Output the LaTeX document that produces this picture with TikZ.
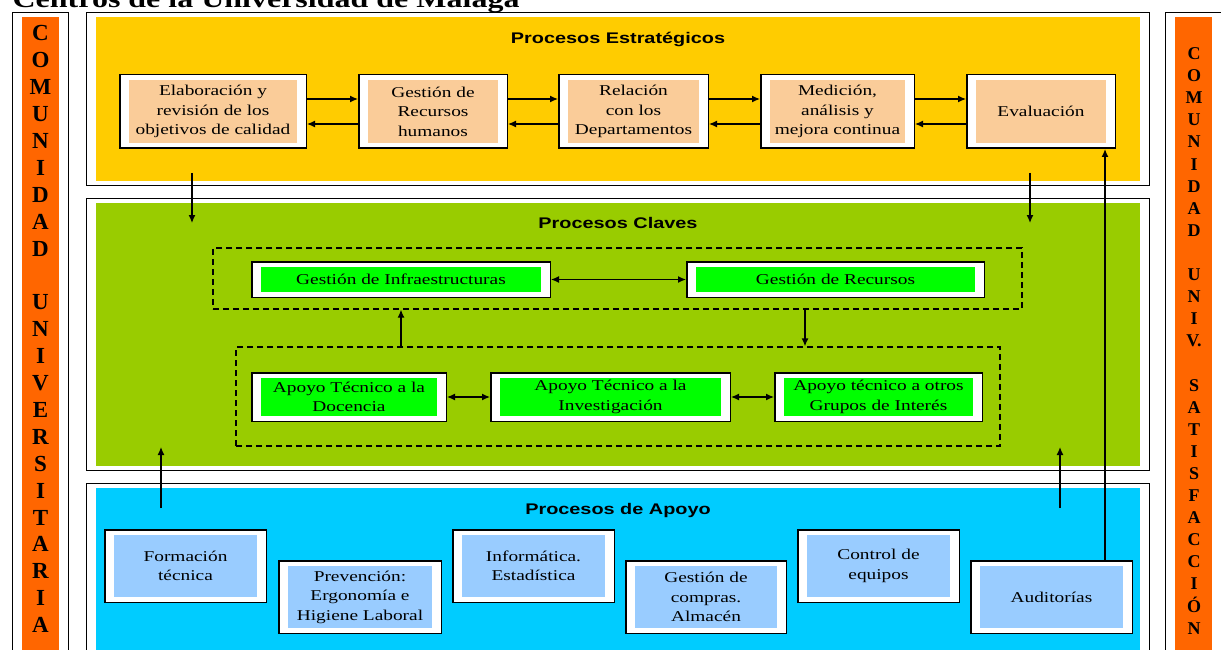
\documentclass[tikz,border=0pt]{standalone}
\usepackage{fontspec}
\setmainfont{Liberation Serif}
\newfontfamily\boxfont[FakeStretch=1.29]{Liberation Serif}
\newfontfamily\headfont[FakeStretch=1.29]{Liberation Sans}
\usetikzlibrary{arrows.meta}
\definecolor{peach}{RGB}{250,204,153}
\definecolor{amber}{RGB}{255,204,0}
\definecolor{keygreen}{RGB}{153,204,0}
\definecolor{boxgreen}{RGB}{0,255,0}
\definecolor{skyfill}{RGB}{0,204,255}
\definecolor{paleblue}{RGB}{153,204,255}
\definecolor{comorange}{RGB}{255,102,0}
\tikzset{
	procbox/.style={draw=black, line width=1.5pt, fill=white, inner sep=0pt, align=center,
		font=\boxfont\fontsize{15}{19.5}\selectfont,
		path picture={\fill[#1] ([xshift=9.3pt,yshift=4.8pt]path picture bounding box.south west) rectangle ([xshift=-9.3pt,yshift=-4.8pt]path picture bounding box.north east);}},
	secframe/.style={procbox=#1, line width=1pt},
	sectitle/.style={inner sep=0pt, anchor=base, font=\headfont\bfseries\fontsize{15.4}{18}\selectfont},
	dashbox/.style={draw=black, line width=1.3pt, dash pattern=on 6pt off 4pt, inner sep=0pt},
	colword/.style={inner sep=0pt, align=center, anchor=north}
}

\begin{document}
\begin{tikzpicture}[x=1pt, y=-1pt, >={Latex[length=8pt,width=7pt]}, line width=1.3pt]
			%%%%% START %%%%%
			\useasboundingbox (0,0) rectangle (1221,650);
			
			\node[anchor=base west, inner sep=0pt, font=\boxfont\bfseries\fontsize{24.8}{28}\selectfont] (title) at (12,7.5) {Centros de la Universidad de Málaga};
			
			% side columns
			\node[secframe=comorange, minimum width=56pt, minimum height=657pt] (colL) at (40.5,341) {};
			\node[colword, font=\bfseries\fontsize{23}{26.9}\selectfont] (wordL) at (40.5,25) {C\\O\\M\\U\\N\\I\\D\\A\\D\\\mbox{}\\U\\N\\I\\V\\E\\R\\S\\I\\T\\A\\R\\I\\A};
			\node[secframe=comorange, minimum width=56pt, minimum height=657pt] (colR) at (1193.5,341) {};
			\node[colword, font=\bfseries\fontsize{18}{22.1}\selectfont] (wordR) at (1194,47) {C\\O\\M\\U\\N\\I\\D\\A\\D\\\mbox{}\\U\\N\\I\\V.\\\mbox{}\\S\\A\\T\\I\\S\\F\\A\\C\\C\\I\\Ó\\N};
			
			% sections
			\node[secframe=amber, minimum width=1063pt, minimum height=173pt] (SE) at (618,99) {};
			\node[secframe=keygreen, minimum width=1063pt, minimum height=272pt] (SC) at (618,334.5) {};
			\node[secframe=skyfill, minimum width=1063pt, minimum height=182pt] (SA) at (618,574) {};
			
			\node[sectitle] (tSE) at (618,43.5) {Procesos Estratégicos};
			\node[sectitle] (tSC) at (618,228.5) {Procesos Claves};
			\node[sectitle] (tSA) at (618,514.5) {Procesos de Apoyo};
			
			% estrategicos
			\node[procbox=peach, minimum width=186.5pt, minimum height=73.5pt] (E1) at (213,111.5) {Elaboración y\\revisión de los\\objetivos de calidad};
			\node[procbox=peach, minimum width=148.5pt, minimum height=73.5pt] (E2) at (433,111.5) {Gestión de\\Recursos\\humanos};
			\node[procbox=peach, minimum width=149.5pt, minimum height=73.5pt] (E3) at (633.5,111.5) {Relación\\con los\\Departamentos};
			\node[procbox=peach, minimum width=153.5pt, minimum height=73.5pt] (E4) at (837.5,111.5) {Medición,\\análisis y\\mejora continua};
			\node[procbox=peach, minimum width=148.5pt, minimum height=73.5pt] (E5) at (1041,111.5) {Evaluación};
			
			\draw[->] ([yshift=12.5pt]E1.east) -- ([yshift=12.5pt]E2.west);
			\draw[->] ([yshift=-12.5pt]E2.west) -- ([yshift=-12.5pt]E1.east);
			\draw[->] ([yshift=12.5pt]E2.east) -- ([yshift=12.5pt]E3.west);
			\draw[->] ([yshift=-12.5pt]E3.west) -- ([yshift=-12.5pt]E2.east);
			\draw[->] ([yshift=12.5pt]E3.east) -- ([yshift=12.5pt]E4.west);
			\draw[->] ([yshift=-12.5pt]E4.west) -- ([yshift=-12.5pt]E3.east);
			\draw[->] ([yshift=12.5pt]E4.east) -- ([yshift=12.5pt]E5.west);
			\draw[->] ([yshift=-12.5pt]E5.west) -- ([yshift=-12.5pt]E4.east);
			
			% claves
			\node[dashbox, minimum width=809pt, minimum height=61pt] (D1) at (617.5,278.5) {};
			\node[dashbox, minimum width=764pt, minimum height=99pt] (D2) at (618,396.5) {};
			
			\node[procbox=boxgreen, minimum width=298.5pt, minimum height=35.5pt] (GI) at (401,279.5) {Gestión de Infraestructuras};
			\node[procbox=boxgreen, minimum width=297.5pt, minimum height=35.5pt] (GR) at (835.5,279.5) {Gestión de Recursos};
			\node[procbox=boxgreen, minimum width=194.5pt, minimum height=48.5pt] (AD) at (349,397) {Apoyo Técnico a la\\Docencia};
			\node[procbox=boxgreen, minimum width=239.5pt, minimum height=48.5pt] (AI) at (610.5,397) {Apoyo Técnico a la\\Investigación};
			\node[procbox=boxgreen, minimum width=207.5pt, minimum height=48.5pt] (AO) at (878.5,397) {Apoyo técnico a otros\\Grupos de Interés};
			
			\draw[<->] (GI) -- (GR);
			\draw[<->] (AD) -- (AI);
			\draw[<->] (AI) -- (AO);
			\coordinate (xdown) at (805,0);
			\draw[->] (D2.north -| GI.center) -- (D1.south -| GI.center);
			\draw[->] (D1.south -| xdown) -- (D2.north -| xdown);
			
			% apoyo
			\node[procbox=paleblue, minimum width=161.5pt, minimum height=72.5pt] (FT) at (185.5,566) {Formación\\técnica};
			\node[procbox=paleblue, minimum width=162.5pt, minimum height=72.5pt] (PE) at (360,597) {Prevención:\\Ergonomía e\\Higiene Laboral};
			\node[procbox=paleblue, minimum width=161.5pt, minimum height=72.5pt] (IE) at (533.5,566) {Informática.\\Estadística};
			\node[procbox=paleblue, minimum width=160.5pt, minimum height=72.5pt] (GC) at (706,597) {Gestión de\\compras.\\Almacén};
			\node[procbox=paleblue, minimum width=161.5pt, minimum height=72.5pt] (CE) at (878.5,566) {Control de\\equipos};
			\node[procbox=paleblue, minimum width=161.5pt, minimum height=72.5pt] (AU) at (1051.5,597) {Auditorías};
			
			% between sections
			\coordinate (sa1) at (192,173);
			\coordinate (sb1) at (192,223);
			\coordinate (sa2) at (1030,173);
			\coordinate (sb2) at (1030,223);
			\coordinate (sc1) at (161,508);
			\coordinate (sd1) at (161,447);
			\coordinate (sc2) at (1060,508);
			\coordinate (sd2) at (1060,447);
			\draw[->] (sa1) -- (sb1);
			\draw[->] (sa2) -- (sb2);
			\draw[->] (sc1) -- (sd1);
			\draw[->] (sc2) -- (sd2);
			
			\coordinate (xaud) at (1105,0);
			\draw[->] (AU.north -| xaud) -- (E5.south -| xaud);
			
			%%%%% END %%%%%
\end{tikzpicture}
\end{document}
